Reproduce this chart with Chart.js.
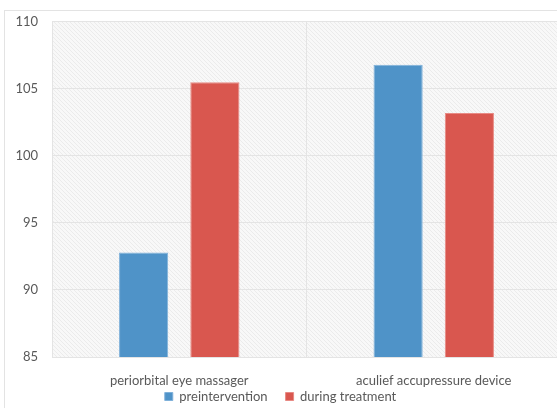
<!DOCTYPE html>
<html><head><meta charset="utf-8">
<script src="https://cdn.jsdelivr.net/npm/chart.js@4/dist/chart.umd.min.js"></script>
<style>
html,body{margin:0;padding:0;background:#fff;overflow:hidden;width:557px;height:408px;}
#frame{position:absolute;left:4px;top:10px;width:600px;height:420px;border:1px solid #e3e3e3;box-sizing:border-box;}
#wrap{position:absolute;left:0;top:0;width:561px;height:408px;}
</style></head><body>
<div id="frame"></div>
<div id="wrap"><canvas id="c"></canvas></div>
<script>
const categories = ["periorbital eye massager", "aculief accupressure device"];
const seriesNames = ["preintervention", "during treatment"];
const preintervention = [92.8, 106.8];
const duringTreatment = [105.5, 103.2];
const yTicks = [85, 90, 95, 100, 105, 110];

function makePattern(){
  const p = document.createElement('canvas');
  p.width = 4; p.height = 4;
  const g = p.getContext('2d');
  g.fillStyle = '#f8f8f8'; g.fillRect(0,0,4,4);
  g.fillStyle = '#ebebeb';
  for (let i=0;i<4;i++){ g.fillRect(i,i,1,1); }
  return g.createPattern(p,'repeat');
}
const LEGEND_ITEM_TOP = 390; // y where legend items start
const bgPlugin = {
  id:'bg',
  afterInit(chart){
    const lg = chart.legend;
    if (lg && !lg._patched){
      const f = lg.fit.bind(lg);
      lg.fit = function(){ f(); this.height = 19; };
      const d = lg.draw.bind(lg);
      lg.draw = function(){
        const t = this.top, b = this.bottom;
        const pad = this.options.labels.padding;
        this.top = LEGEND_ITEM_TOP - pad; this.bottom = this.top + 40;
        d();
        this.top = t; this.bottom = b;
      };
      lg._patched = true;
    }
  },
  beforeDraw(chart){
    const {ctx, chartArea:a} = chart;
    ctx.save();
    ctx.fillStyle = makePattern();
    ctx.fillRect(a.left, a.top, a.right-a.left, a.bottom-a.top);
    ctx.restore();
  }
};
const font = {family:'Lato', size:13};
const chart = new Chart(document.getElementById('c'), {
  type:'bar',
  data:{
    labels: categories,
    datasets:[
      {label: seriesNames[0], data: preintervention, backgroundColor:'#4f93c8', borderColor:'#7fb1da', borderWidth:1, borderSkipped:'bottom'},
      {label: seriesNames[1], data: duringTreatment, backgroundColor:'#d9574f', borderColor:'#e88a84', borderWidth:1, borderSkipped:'bottom'}
    ]
  },
  options:{
    responsive:true, maintainAspectRatio:false, animation:false,
    devicePixelRatio:1,
    layout:{padding:{top:10, right:0, left:0, bottom:0}},
    datasets:{bar:{barPercentage:0.69, categoryPercentage:0.56}},
    plugins:{
      legend:{position:'bottom', labels:{boxWidth:8, boxHeight:8, color:'#595959', font:font, padding:18}},
      tooltip:{enabled:false}
    },
    scales:{
      x:{
        grid:{color:'#e4e4e4', drawTicks:false},
        border:{display:false},
        afterFit(s){ s.height = 32; },
        ticks:{color:'#595959', font:font, padding:16, maxRotation:0}
      },
      y:{
        min:85, max:110,
        afterBuildTicks(s){ s.ticks = yTicks.map(v=>({value:v})); },
        afterFit(s){ s.width = 52; },
        grid:{color:'#e4e4e4', drawTicks:false},
        border:{display:false},
        ticks:{color:'#595959', font:font, padding:14}
      }
    }
  },
  plugins:[bgPlugin]
});
chart.update();
</script>
</body></html>
